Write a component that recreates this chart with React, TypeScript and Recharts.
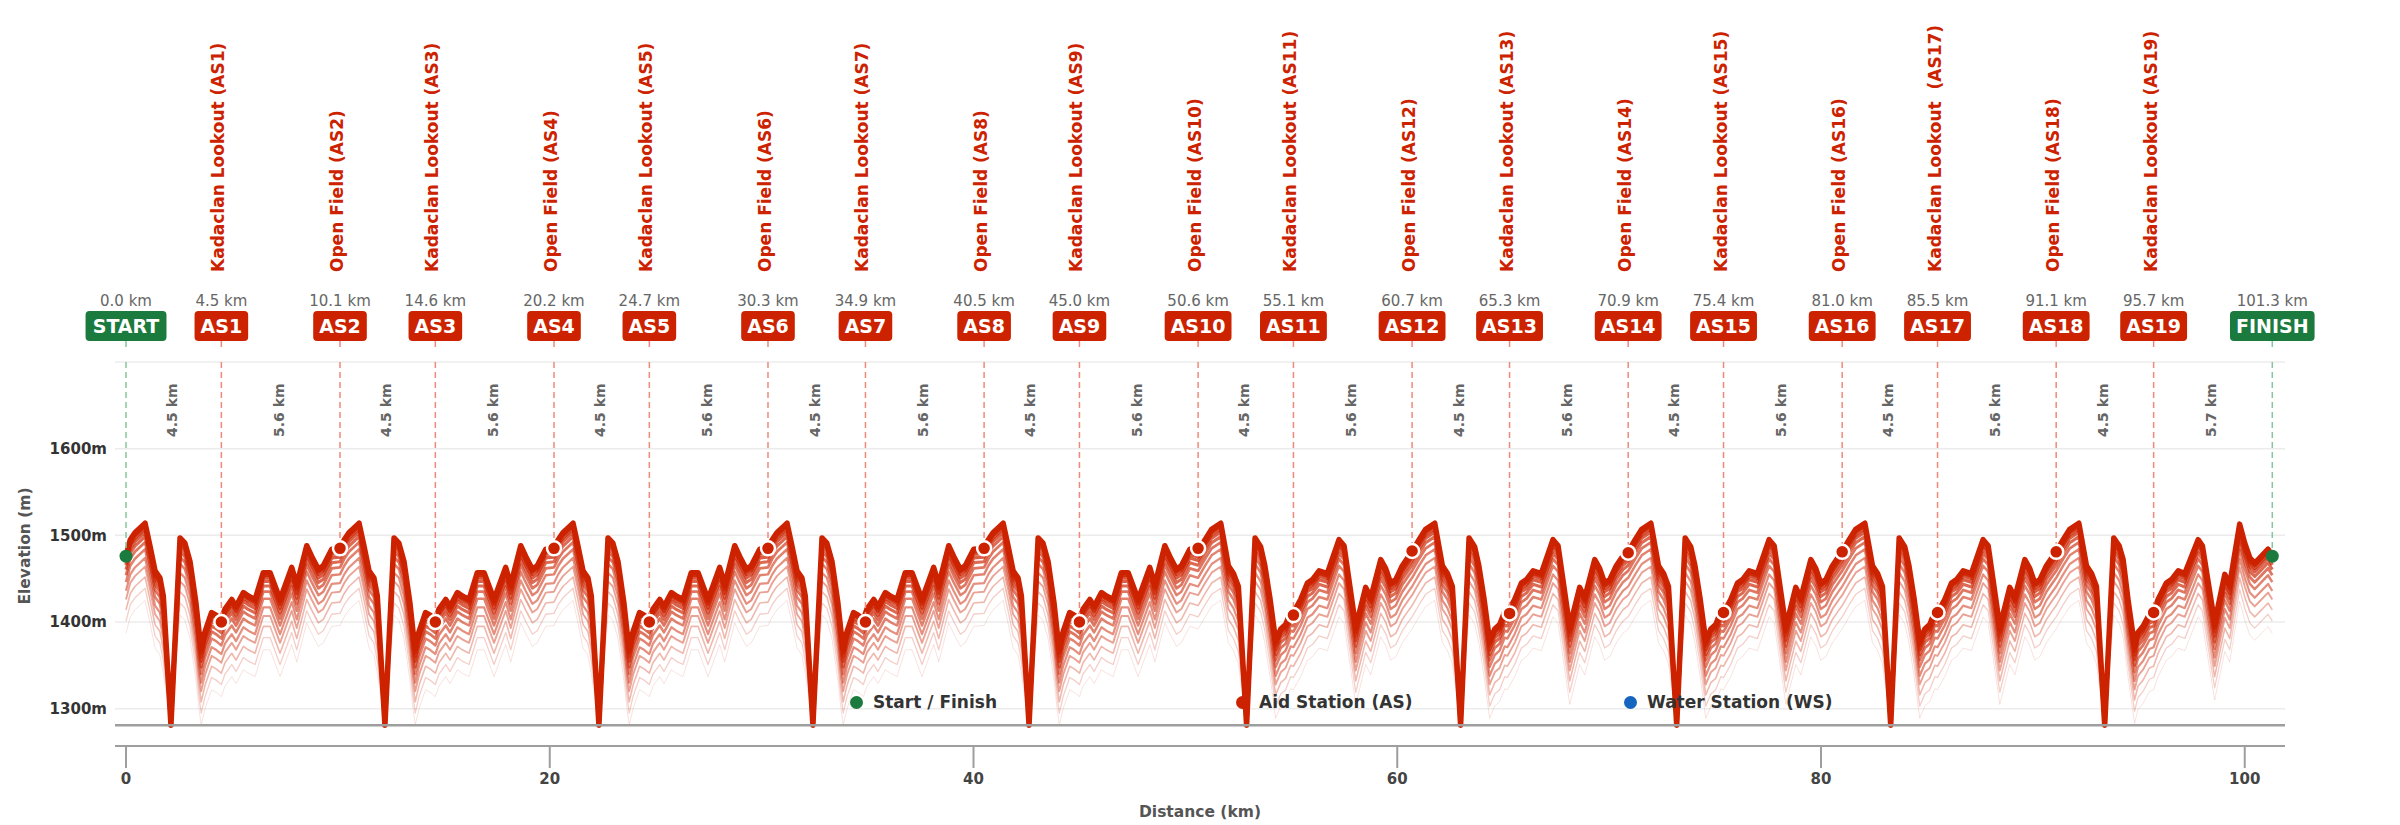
import { CartesianGrid, ComposedChart, Line, ReferenceDot, ReferenceLine, XAxis, YAxis } from 'recharts';

const FONT = '"DejaVu Sans", Verdana, sans-serif';
const RED = '#cc2200';
const GREEN = '#1b7a3d';
const BLUE = '#1565c0';
const RED_DASH = '#ef8a7a';
const GREEN_DASH = '#84c79c';

// elevation profile, read lap by lap (u = km after the lap's even-numbered station)
const startElev = 1476;
const lapStartKm = [0, 10.1, 20.2, 30.3, 40.5, 50.6, 60.7, 70.9, 81.0, 91.1];
const lapPattern = ['A', 'A', 'A', 'A', 'A', 'B', 'B', 'B', 'B', 'F'];

const lapAU = [0, 0.2, 0.42, 0.9, 1.13, 1.37, 1.6, 1.76, 2.12, 2.55, 2.78, 3.02, 3.3, 3.45, 3.55, 3.73, 4.04, 4.25, 4.5, 4.67, 4.99, 5.19, 5.54, 5.77, 6.09, 6.48, 6.8, 7.27, 7.82, 8.06, 8.53, 8.76, 9.08, 9.31, 9.71];
const lapAE = [1485, 1495, 1503, 1514, 1488, 1459, 1451, 1430, 1281, 1497, 1491, 1470, 1422, 1388, 1370, 1389, 1411, 1408, 1403, 1415, 1426, 1418, 1434, 1430, 1426, 1457, 1457, 1426, 1463, 1443, 1488, 1476, 1461, 1465, 1484];

const lapBU = [0, 0.33, 0.64, 1.07, 1.43, 1.67, 1.9, 2.29, 2.69, 2.95, 3.15, 3.4, 3.66, 3.9, 4.13, 4.37, 4.5, 4.84, 5.16, 5.4, 5.71, 6.1, 6.65, 6.89, 7.44, 7.91, 8.15, 8.62, 8.85, 9.09, 9.33, 9.64, 9.95];
const lapBE = [1481, 1495, 1507, 1514, 1465, 1456, 1441, 1281, 1497, 1487, 1465, 1426, 1378, 1392, 1397, 1412, 1411, 1426, 1445, 1449, 1459, 1456, 1495, 1488, 1394, 1440, 1428, 1472, 1462, 1445, 1449, 1465, 1476];

const lapFU = [0, 0.33, 0.64, 1.07, 1.43, 1.67, 1.9, 2.29, 2.72, 2.97, 3.16, 3.39, 3.7, 3.86, 4.1, 4.4, 4.6, 4.81, 5.2, 5.44, 5.76, 6.07, 6.7, 6.9, 7.48, 7.96, 8.19, 8.66, 8.9, 9.14, 9.37, 9.61, 10.0, 10.2];
const lapFE = [1481, 1495, 1507, 1514, 1465, 1456, 1441, 1281, 1497, 1488, 1472, 1426, 1372, 1388, 1395, 1409, 1411, 1426, 1445, 1449, 1459, 1456, 1495, 1488, 1399, 1455, 1443, 1513, 1491, 1474, 1468, 1474, 1484, 1476];

const floorElev = 1281;

// stations
const stationCodes = ['START', 'AS1', 'AS2', 'AS3', 'AS4', 'AS5', 'AS6', 'AS7', 'AS8', 'AS9', 'AS10', 'AS11', 'AS12', 'AS13', 'AS14', 'AS15', 'AS16', 'AS17', 'AS18', 'AS19', 'FINISH'];
const stationKm = [0, 4.5, 10.1, 14.6, 20.2, 24.7, 30.3, 34.9, 40.5, 45.0, 50.6, 55.1, 60.7, 65.3, 70.9, 75.4, 81.0, 85.5, 91.1, 95.7, 101.3];
const stationElev = [1476, 1400, 1485, 1400, 1485, 1400, 1485, 1400, 1485, 1400, 1485, 1408, 1482, 1410, 1480, 1411, 1481, 1411, 1481, 1411, 1476];
const stationNames = [
  '',
  'Kadaclan Lookout (AS1)', 'Open Field (AS2)', 'Kadaclan Lookout (AS3)', 'Open Field (AS4)',
  'Kadaclan Lookout (AS5)', 'Open Field (AS6)', 'Kadaclan Lookout (AS7)', 'Open Field (AS8)',
  'Kadaclan Lookout (AS9)', 'Open Field (AS10)', 'Kadaclan Lookout (AS11)', 'Open Field (AS12)',
  'Kadaclan Lookout (AS13)', 'Open Field (AS14)', 'Kadaclan Lookout (AS15)', 'Open Field (AS16)',
  'Kadaclan Lookout  (AS17)', 'Open Field (AS18)', 'Kadaclan Lookout (AS19)',
  '',
];
const segmentLabels = ['4.5 km', '5.6 km', '4.5 km', '5.6 km', '4.5 km', '5.6 km', '4.5 km', '5.6 km', '4.5 km', '5.6 km', '4.5 km', '5.6 km', '4.5 km', '5.6 km', '4.5 km', '5.6 km', '4.5 km', '5.6 km', '4.5 km', '5.7 km'];

const yTicks = [1300, 1400, 1500, 1600];
const xTicks = [0, 20, 40, 60, 80, 100];
const legendLabels = ['Start / Finish', 'Aid Station (AS)', 'Water Station (WS)'];

// shading layers below the main profile (offset in m)
const shadeOffsets = [89, 75, 62, 50, 40, 30, 22, 15.5, 10, 5.6, 2.5];
const shadeWidths = [1, 1.3, 1.6, 1.9, 2.2, 2.5, 2.8, 3.1, 3.4, 3.8, 4.2];
const shadeOpacity = [0.13, 0.22, 0.32, 0.42, 0.5, 0.56, 0.62, 0.67, 0.72, 0.77, 0.82];

const laps: Record<string, [number[], number[]]> = { A: [lapAU, lapAE], B: [lapBU, lapBE], F: [lapFU, lapFE] };

const profile: Record<string, number>[] = [];
lapStartKm.forEach((s, i) => {
  const [us, es] = laps[lapPattern[i]];
  us.forEach((u, j) => {
    const e = i === 0 && j === 0 ? startElev : es[j];
    const row: Record<string, number> = { km: +(s + u).toFixed(2), e };
    shadeOffsets.forEach((off, k) => {
      row[`s${k}`] = Math.max(e - off, floorElev);
    });
    profile.push(row);
  });
});

const glyph: Record<string, number> = { A: 0.774, S: 0.72, T: 0.682, R: 0.77, F: 0.683, I: 0.372, N: 0.837, H: 0.837 };
const badgeWidth = (t: string) => t.split('').reduce((w, c) => w + (glyph[c] ?? 0.696), 0) * 19 + 12;

const isEnd = (i: number) => i === 0 || i === stationCodes.length - 1;

function StationHeader(props: any) {
  const { cx, cy, idx } = props;
  const code = stationCodes[idx];
  const w = badgeWidth(code);
  const color = isEnd(idx) ? GREEN : RED;
  return (
    <g fontFamily={FONT}>
      <text x={cx} y={cy - 56} textAnchor="middle" fontSize={15} fill="#666">
        {stationKm[idx].toFixed(1)} km
      </text>
      <rect x={cx - w / 2} y={cy - 51} width={w} height={30} rx={4} fill={color} />
      <text x={cx} y={cy - 29} textAnchor="middle" fontSize={19} fontWeight={700} fill="#fff">
        {code}
      </text>
      <line x1={cx} x2={cx} y1={cy - 21} y2={cy - 15} stroke={isEnd(idx) ? GREEN_DASH : RED_DASH} strokeWidth={1.5} />
      {stationNames[idx] && (
        <text
          transform={`translate(${cx + 3},${cy - 90}) rotate(-90)`}
          fontSize={17}
          fontWeight={700}
          fill={RED}
          style={{ whiteSpace: 'pre' }}
        >
          {stationNames[idx]}
        </text>
      )}
    </g>
  );
}

function SegmentLabel(props: any) {
  const { cx, cy, idx } = props;
  return (
    <text
      transform={`translate(${cx + 3.5},${cy + 75}) rotate(-90)`}
      fontFamily={FONT}
      fontSize={14}
      fontWeight={700}
      fill="#666"
    >
      {segmentLabels[idx]}
    </text>
  );
}

function YLabel(props: any) {
  const vb = props.viewBox || { x: 0, y: 362, width: 115, height: 384 };
  const x = vb.x + 25;
  const y = vb.y + vb.height / 2 - 8;
  return (
    <text x={x} y={y} transform={`rotate(-90 ${x} ${y})`} textAnchor="middle" dominantBaseline="central" fontFamily={FONT} fontSize={15.5} fontWeight={700} fill="#555">
      Elevation (m)
    </text>
  );
}

function XLabel(props: any) {
  const vb = props.viewBox || { x: 115, y: 746, width: 2170, height: 79 };
  return (
    <text x={vb.x + vb.width / 2} y={vb.y + 71} textAnchor="middle" fontFamily={FONT} fontSize={15.5} fontWeight={700} fill="#555">
      Distance (km)
    </text>
  );
}

const legendColors = [GREEN, RED, BLUE];
const legendLeft = [850, 1236, 1624];

export default function App() {
  return (
    <div style={{ position: 'absolute', left: 0, top: 0, width: 2400, height: 825, background: '#fff' }}>
      <ComposedChart width={2400} height={825} data={profile} margin={{ top: 362, right: 115, bottom: 0, left: 0 }}>
        <CartesianGrid vertical={false} stroke="#ececec" strokeWidth={1.5} />
        <XAxis
          type="number"
          dataKey="km"
          domain={[-0.52, 101.9]}
          ticks={xTicks}
          height={79}
          allowDataOverflow
          axisLine={{ stroke: '#9e9e9e', strokeWidth: 2 }}
          tickLine={{ stroke: '#9e9e9e', strokeWidth: 2 }}
          tickSize={22}
          tickMargin={5}
          tick={{ fontFamily: FONT, fontSize: 15, fontWeight: 700, fill: '#444' }}
          label={<XLabel />}
        />
        <YAxis
          type="number"
          domain={[1257, 1700]}
          ticks={yTicks}
          width={115}
          allowDataOverflow
          axisLine={false}
          tickLine={false}
          tickFormatter={(v: number) => `${v}m`}
          tick={{ fontFamily: FONT, fontSize: 15, fontWeight: 700, fill: '#333' }}
          label={<YLabel />}
        />
        {shadeOffsets.map((_, k) => (
          <Line
            key={k}
            type="linear"
            dataKey={`s${k}`}
            stroke={RED}
            strokeOpacity={shadeOpacity[k]}
            strokeWidth={shadeWidths[k]}
            strokeLinejoin="round"
            dot={false}
            activeDot={false}
            isAnimationActive={false}
          />
        ))}
        <Line type="linear" dataKey="e" stroke={RED} strokeWidth={5.5} strokeLinejoin="round" dot={false} activeDot={false} isAnimationActive={false} />
        <ReferenceLine y={floorElev} stroke="#9e9e9e" strokeWidth={2.5} ifOverflow="visible" />
        {stationKm.map((km, i) => (
          <ReferenceLine
            key={`v${i}`}
            segment={[{ x: km, y: 1700 }, { x: km, y: stationElev[i] }]}
            stroke={isEnd(i) ? GREEN_DASH : RED_DASH}
            strokeWidth={1.5}
            strokeDasharray="6 4"
            ifOverflow="visible"
          />
        ))}
        {stationKm.map((km, i) => (
          <ReferenceDot
            key={`d${i}`}
            x={km}
            y={stationElev[i]}
            r={isEnd(i) ? 6.5 : 7}
            fill={isEnd(i) ? GREEN : RED}
            stroke={isEnd(i) ? 'none' : '#fff'}
            strokeWidth={2.5}
            ifOverflow="visible"
          />
        ))}
        {stationKm.map((km, i) => (
          <ReferenceDot key={`h${i}`} x={km} y={1700} r={0} ifOverflow="visible" shape={(p: any) => <StationHeader {...p} idx={i} />} />
        ))}
        {segmentLabels.map((_, i) => (
          <ReferenceDot
            key={`s${i}`}
            x={(stationKm[i] + stationKm[i + 1]) / 2}
            y={1700}
            r={0}
            ifOverflow="visible"
            shape={(p: any) => <SegmentLabel {...p} idx={i} />}
          />
        ))}
      </ComposedChart>
      {legendLabels.map((t, i) => (
        <div
          key={t}
          style={{
            position: 'absolute',
            left: legendLeft[i],
            top: 689,
            height: 26,
            display: 'flex',
            alignItems: 'center',
            fontFamily: FONT,
            fontSize: 17,
            fontWeight: 700,
            color: '#333',
            whiteSpace: 'nowrap',
          }}
        >
          <span style={{ width: 13, height: 13, borderRadius: '50%', background: legendColors[i], marginRight: 10 }} />
          {t}
        </div>
      ))}
    </div>
  );
}
